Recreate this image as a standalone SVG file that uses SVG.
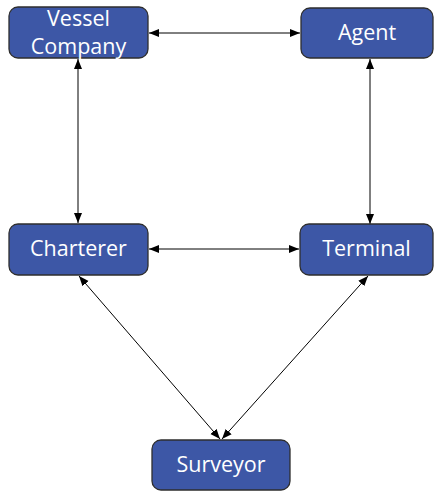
<svg xmlns="http://www.w3.org/2000/svg" width="435" height="491" viewBox="0 0 435 491">
<style>
.box{fill:#3D57A6;stroke:#2E2E2E;stroke-width:1.3}
.lbl{fill:#fff;font-family:"Open Sans","Liberation Sans",sans-serif;font-size:21.5px;text-anchor:middle}
.ln{stroke:#000;stroke-width:1;fill:none;marker-start:url(#a);marker-end:url(#a)}
</style>
<defs>
<marker id="a" viewBox="0 0 10 10" refX="10" refY="5" markerWidth="10" markerHeight="10" markerUnits="userSpaceOnUse" orient="auto-start-reverse">
<path d="M0,1 L10,5 L0,9 z" fill="#000"/>
</marker>
</defs>
<rect width="435" height="491" fill="#fff"/>
<g id="connectors">
<line class="ln" x1="149" y1="33" x2="300" y2="33"/>
<line class="ln" x1="78" y1="59" x2="78" y2="223"/>
<line class="ln" x1="370" y1="59" x2="370" y2="224"/>
<line class="ln" x1="149" y1="249" x2="299" y2="249"/>
<line class="ln" x1="79" y1="276" x2="220" y2="439"/>
<line class="ln" x1="368" y1="276" x2="222" y2="439"/>
</g>
<g id="vessel">
<rect class="box" x="9" y="7" width="139" height="51" rx="9"/>
<text class="lbl" x="78.5" y="26">Vessel</text>
<text class="lbl" x="78.5" y="54">Company</text>
</g>
<g id="agent">
<rect class="box" x="301" y="8" width="132" height="50" rx="9"/>
<text class="lbl" x="367" y="40">Agent</text>
</g>
<g id="charterer">
<rect class="box" x="9" y="224" width="139" height="51" rx="9"/>
<text class="lbl" x="78.5" y="256">Charterer</text>
</g>
<g id="terminal">
<rect class="box" x="300" y="224" width="133" height="51" rx="9"/>
<text class="lbl" x="366.5" y="256">Terminal</text>
</g>
<g id="surveyor">
<rect class="box" x="152" y="440" width="138" height="50" rx="9"/>
<text class="lbl" x="221" y="472">Surveyor</text>
</g>
</svg>
